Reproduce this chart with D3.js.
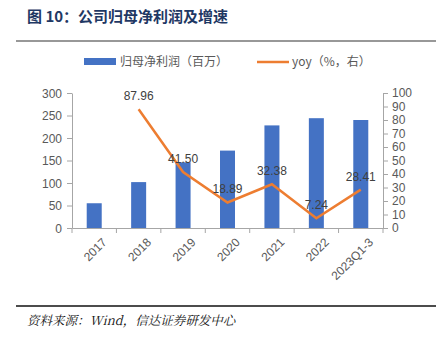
<!DOCTYPE html>
<html>
<head>
<meta charset="utf-8">
<script src="https://cdn.jsdelivr.net/npm/d3@7"></script>
<style>
  body { margin: 0; background: #fff; }
  svg { display: block; }
  .axis path, .axis line { stroke: #a6a6a6; }
  .axis text { fill: #595959; font-family: "Liberation Sans", Arial, sans-serif; font-size: 12px; }
</style>
</head>
<body>
<div id="chart"></div>
<script>
// data
var categories = ['2017', '2018', '2019', '2020', '2021', '2022', '2023Q1-3'];
var profit = [55, 102, 146, 172, 228, 244, 240];
var yoy = [null, 87.96, 41.50, 18.89, 32.38, 7.24, 28.41];
var leftTicks = [0, 50, 100, 150, 200, 250, 300];
var rightTicks = [0, 10, 20, 30, 40, 50, 60, 70, 80, 90, 100];

var W = 446, H = 342;
var margin = { top: 93, right: 63, bottom: 114, left: 72 };
var width = W - margin.left - margin.right,
    height = H - margin.top - margin.bottom;

var svg = d3.select('#chart').append('svg').attr('width', W).attr('height', H);

// title + rules
svg.append('text')
  .attr('x', 27).attr('y', 22)
  .attr('fill', '#1f3864')
  .style('font-family', '"Noto Sans CJK SC", sans-serif')
  .style('font-size', '15px').style('font-weight', 'bold')
  .text('图 10：公司归母净利润及增速');
svg.append('line').attr('x1', 16).attr('x2', 436).attr('y1', 41).attr('y2', 41)
  .attr('stroke', '#333').attr('stroke-width', 1.2);
svg.append('line').attr('x1', 16).attr('x2', 436).attr('y1', 306).attr('y2', 306)
  .attr('stroke', '#111').attr('stroke-width', 1.5);
svg.append('text')
  .attr('x', 27).attr('y', 325)
  .attr('fill', '#111')
  .style('font-family', '"Noto Serif CJK SC", "Liberation Serif", serif')
  .style('font-style', 'italic')
  .style('font-size', '12.5px')
  .text('资料来源：Wind，信达证券研发中心');

// legend
var legend = svg.append('g').style('font-family', '"Noto Sans CJK SC", sans-serif').style('font-size', '12px');
legend.append('rect').attr('x', 84).attr('y', 58).attr('width', 32).attr('height', 7).attr('fill', '#4472c4');
legend.append('text').attr('x', 120).attr('y', 66).attr('fill', '#595959').text('归母净利润（百万）');
legend.append('line').attr('x1', 257).attr('x2', 289).attr('y1', 62).attr('y2', 62)
  .attr('stroke', '#ed7d31').attr('stroke-width', 2.5);
legend.append('text').attr('x', 292).attr('y', 66).attr('fill', '#595959').text('yoy（%，右）');

var g = svg.append('g').attr('transform', 'translate(' + margin.left + ',' + margin.top + ')');

var x = d3.scaleBand().domain(categories).range([0, width]);
var y = d3.scaleLinear().domain([0, 300]).range([height, 0]);
var y2 = d3.scaleLinear().domain([0, 100]).range([height, 0]);

// axes
g.append('g').attr('class', 'axis')
  .call(d3.axisLeft(y).tickValues(leftTicks).tickSize(5).tickPadding(5).tickSizeOuter(0))
  .selectAll('text').attr('dy', '0.35em');

g.append('g').attr('class', 'axis')
  .attr('transform', 'translate(' + width + ',0)')
  .call(d3.axisRight(y2).tickValues(rightTicks).tickSize(5).tickPadding(4).tickSizeOuter(0));

var xAxis = g.append('g').attr('class', 'axis')
  .attr('transform', 'translate(0,' + height + ')')
  .call(d3.axisBottom(x).tickSize(0).tickSizeOuter(0));
xAxis.selectAll('.tick text')
  .attr('text-anchor', 'end')
  .attr('transform', 'translate(' + (x.bandwidth() / 2 - 14) + ',10) rotate(-45)')
  .attr('dy', '0.35em');
// tick marks at band edges
xAxis.selectAll('.edge')
  .data(d3.range(categories.length + 1))
  .enter().append('line')
  .attr('x1', function(i) { return x.step() * i; })
  .attr('x2', function(i) { return x.step() * i; })
  .attr('y1', 0).attr('y2', 5)
  .attr('stroke', '#a6a6a6');

// bars
var barW = 15;
g.selectAll('.bar').data(profit).enter().append('rect')
  .attr('x', function(d, i) { return x(categories[i]) + x.bandwidth() / 2 - barW / 2; })
  .attr('y', function(d) { return y(d); })
  .attr('width', barW)
  .attr('height', function(d) { return height - y(d); })
  .attr('fill', '#4472c4');

// yoy line
var pts = yoy.map(function(v, i) { return { c: categories[i], v: v }; })
  .filter(function(d) { return d.v !== null; });
var line = d3.line()
  .x(function(d) { return x(d.c) + x.bandwidth() / 2; })
  .y(function(d) { return y2(d.v); });
g.append('path').datum(pts)
  .attr('d', line)
  .attr('fill', 'none')
  .attr('stroke', '#ed7d31')
  .attr('stroke-width', 2.5);

g.selectAll('.lbl').data(pts).enter().append('text')
  .attr('x', function(d) { return x(d.c) + x.bandwidth() / 2; })
  .attr('y', function(d) { return y2(d.v) - 9; })
  .attr('text-anchor', 'middle')
  .attr('fill', '#404040')
  .style('font-family', '"Liberation Sans", Arial, sans-serif')
  .style('font-size', '12px')
  .text(function(d) { return d.v.toFixed(2); });
</script>
</body>
</html>
